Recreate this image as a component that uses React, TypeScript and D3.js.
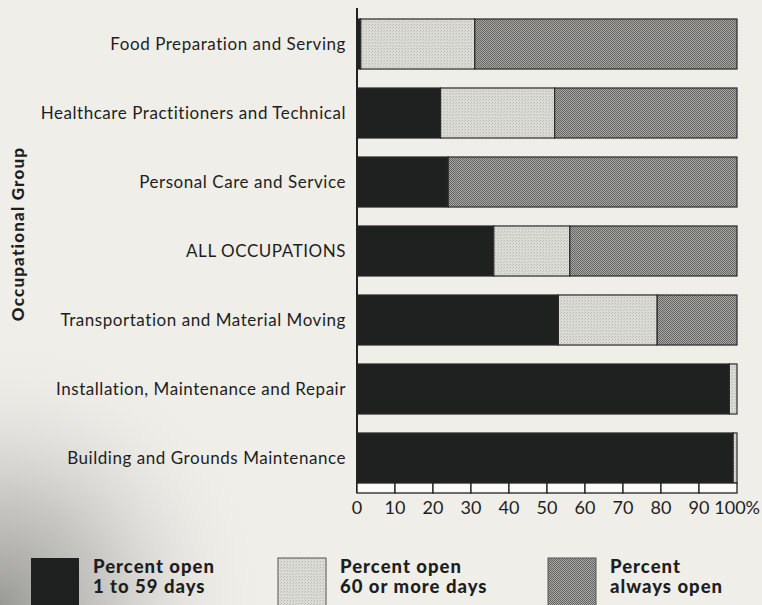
import React, { useEffect, useRef } from "react";
import * as d3 from "d3";

// occupational groups, top to bottom
const groups = [
  "Food Preparation and Serving",
  "Healthcare Practitioners and Technical",
  "Personal Care and Service",
  "ALL OCCUPATIONS",
  "Transportation and Material Moving",
  "Installation, Maintenance and Repair",
  "Building and Grounds Maintenance",
];

// percent of positions in each state
const open1to59 = [1, 22, 24, 36, 53, 98, 99];
const open60plus = [30, 30, 0, 20, 26, 2, 1];
const alwaysOpen = [69, 48, 76, 44, 21, 0, 0];

const seriesKeys = ["open1to59", "open60plus", "alwaysOpen"];
const legendLines = [
  ["Percent open", "1 to 59 days"],
  ["Percent open", "60 or more days"],
  ["Percent", "always open"],
];
const xTicks = [0, 10, 20, 30, 40, 50, 60, 70, 80, 90, 100];

const App = () => {
  const svgRef = useRef<SVGSVGElement | null>(null);

  useEffect(() => {
    const width = 762;
    const height = 605;
    const bg = "#efeee9";
    const labelFont = "Lato, 'Open Sans', sans-serif";

    const table = groups.map((g, i) => ({
      group: g,
      open1to59: open1to59[i],
      open60plus: open60plus[i],
      alwaysOpen: alwaysOpen[i],
    }));

    const x = d3.scaleLinear().domain([0, 100]).range([357, 737]);
    const y = d3
      .scaleBand()
      .domain(groups)
      .range([19, 483])
      .paddingInner(0.275)
      .paddingOuter(0);

    const svg = d3
      .select(svgRef.current)
      .attr("width", width)
      .attr("height", height)
      .attr("viewBox", [0, 0, width, height])
      .style("position", "absolute")
      .style("left", "0px")
      .style("top", "0px")
      .style("background", bg);

    svg.selectAll("*").remove();

    // === patterns for the screened fills ===
    const defs = svg.append("defs");

    const light = defs
      .append("pattern")
      .attr("id", "lightFill")
      .attr("width", 3)
      .attr("height", 3)
      .attr("patternUnits", "userSpaceOnUse");
    light.append("rect").attr("width", 3).attr("height", 3).attr("fill", "#dcdcd6");
    light.append("rect").attr("x", 0).attr("y", 0).attr("width", 1).attr("height", 1).attr("fill", "#b9b9b4");
    light.append("rect").attr("x", 2).attr("y", 1).attr("width", 1).attr("height", 1).attr("fill", "#c6c6c1");

    const medium = defs
      .append("pattern")
      .attr("id", "mediumFill")
      .attr("width", 2)
      .attr("height", 2)
      .attr("patternUnits", "userSpaceOnUse");
    medium.append("rect").attr("width", 2).attr("height", 2).attr("fill", "#a6a6a2");
    medium.append("rect").attr("x", 0).attr("y", 0).attr("width", 1).attr("height", 1).attr("fill", "#666664");
    medium.append("rect").attr("x", 1).attr("y", 1).attr("width", 1).attr("height", 1).attr("fill", "#666664");

    const shade = defs
      .append("radialGradient")
      .attr("id", "cornerShade")
      .attr("cx", 0)
      .attr("cy", height)
      .attr("r", 270)
      .attr("gradientUnits", "userSpaceOnUse");
    shade.append("stop").attr("offset", "0%").attr("stop-color", "#8f8f8c").attr("stop-opacity", 0.9);
    shade.append("stop").attr("offset", "40%").attr("stop-color", "#a9a9a6").attr("stop-opacity", 0.55);
    shade.append("stop").attr("offset", "100%").attr("stop-color", bg).attr("stop-opacity", 0);

    const fills: Record<string, string> = {
      open1to59: "#1e2120",
      open60plus: "url(#lightFill)",
      alwaysOpen: "url(#mediumFill)",
    };

    // scanner shading in the lower left corner
    svg.append("rect").attr("width", width).attr("height", height).attr("fill", "url(#cornerShade)");

    // === stacked bars ===
    const stack = d3.stack<any>().keys(seriesKeys)(table);

    svg
      .append("g")
      .selectAll("g")
      .data(stack)
      .join("g")
      .attr("fill", (d) => fills[d.key])
      .selectAll("rect")
      .data((d) => d.filter((s) => s[1] - s[0] > 0))
      .join("rect")
      .attr("x", (d) => x(d[0]))
      .attr("y", (d) => y(d.data.group)!)
      .attr("width", (d) => x(d[1]) - x(d[0]))
      .attr("height", y.bandwidth())
      .attr("stroke", "#2a2a2a")
      .attr("stroke-width", 1.2);

    // === category labels ===
    svg
      .append("g")
      .selectAll("text")
      .data(groups)
      .join("text")
      .attr("x", 346)
      .attr("y", (d) => y(d)! + y.bandwidth() / 2)
      .attr("dy", "0.35em")
      .attr("text-anchor", "end")
      .attr("font-family", labelFont)
      .attr("font-size", 17)
      .attr("letter-spacing", 0.55)
      .attr("fill", "#1e1e1e")
      .text((d) => d);

    // === axis line ===
    svg
      .append("line")
      .attr("x1", x(0))
      .attr("x2", x(0))
      .attr("y1", 8)
      .attr("y2", 493)
      .attr("stroke", "#222")
      .attr("stroke-width", 2);

    // === ruler-like x axis ===
    const ruler = svg.append("g");
    ruler
      .selectAll("rect")
      .data(xTicks.slice(0, -1))
      .join("rect")
      .attr("x", (d) => x(d))
      .attr("y", 483)
      .attr("width", (d) => x(d + 10) - x(d))
      .attr("height", 10)
      .attr("fill", "#fbfbf8")
      .attr("stroke", "#222")
      .attr("stroke-width", 1.3);

    ruler
      .selectAll("text")
      .data(xTicks)
      .join("text")
      .attr("x", (d) => (d === 100 ? 760 : x(d)))
      .attr("y", 514)
      .attr("text-anchor", (d) => (d === 100 ? "end" : "middle"))
      .attr("font-family", labelFont)
      .attr("font-size", 18)
      .attr("fill", "#1e1e1e")
      .text((d) => (d === 100 ? "100%" : String(d)));

    // === y axis title ===
    svg
      .append("text")
      .attr("transform", "translate(24,234) rotate(-90)")
      .attr("text-anchor", "middle")
      .attr("font-family", labelFont)
      .attr("font-weight", 900)
      .attr("font-size", 17)
      .attr("letter-spacing", 1.2)
      .attr("fill", "#1e1e1e")
      .text("Occupational Group");

    // === legend ===
    const legendX = [31, 278, 548];
    const legend = svg
      .append("g")
      .selectAll("g")
      .data(seriesKeys)
      .join("g")
      .attr("transform", (_, i) => `translate(${legendX[i]},558)`);

    legend
      .append("rect")
      .attr("width", 48)
      .attr("height", 52)
      .attr("fill", (d) => fills[d])
      .attr("stroke", (d) => (d === "open1to59" ? "none" : "#555"))
      .attr("stroke-width", 1);

    legend
      .append("text")
      .attr("x", 62)
      .attr("font-family", labelFont)
      .attr("font-weight", 900)
      .attr("font-size", 18.5)
      .attr("letter-spacing", 1)
      .attr("fill", "#1e1e1e")
      .selectAll("tspan")
      .data((_, i) => legendLines[i])
      .join("tspan")
      .attr("x", 62)
      .attr("y", (_, i) => 15 + i * 20)
      .text((d) => d);
  }, []);

  return <svg ref={svgRef}></svg>;
};

export default App;
